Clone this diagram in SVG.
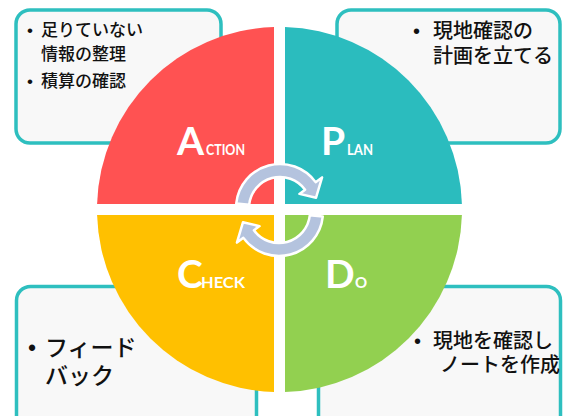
<svg xmlns="http://www.w3.org/2000/svg" width="564" height="416" viewBox="0 0 564 416">
<style>
.box{fill:#F8F8F8;stroke:#2EBFBF;stroke-width:3.5}
.jp{font-family:"Noto Sans CJK JP","Noto Sans",sans-serif;fill:#111;font-weight:500}
.bul{font-family:"Liberation Sans",sans-serif;fill:#111}
.big{font-family:Lato,"Liberation Sans",sans-serif;font-weight:bold;fill:#fff;font-size:39px}
.sm{font-family:Lato,"Liberation Sans",sans-serif;font-weight:bold;fill:#fff;font-size:15px}
.arr{fill:#B4C3DE;stroke:#fff;stroke-width:2.5;stroke-linejoin:round}
</style>
<rect width="564" height="416" fill="#fff"/>
<g id="note-action">
<rect class="box" x="16" y="10" width="205" height="133" rx="14"/>
<text class="bul" font-size="17" x="27" y="36">•</text>
<text class="jp" font-size="17"><tspan x="41" y="36">足りていない</tspan><tspan x="41" y="60">情報の整理</tspan></text>
<text class="bul" font-size="17" x="27" y="87">•</text>
<text class="jp" font-size="17" x="41" y="87">積算の確認</text>
</g>
<g id="note-plan">
<rect class="box" x="337" y="10" width="223" height="133" rx="14"/>
<text class="bul" font-size="20" x="413" y="38">•</text>
<text class="jp" font-size="20"><tspan x="433" y="38">現地確認の</tspan><tspan x="433" y="63">計画を立てる</tspan></text>
</g>
<g id="note-check">
<rect class="box" x="16.5" y="286.5" width="240" height="150" rx="14"/>
<text class="bul" font-size="23" x="28" y="356">•</text>
<text class="jp" font-size="23"><tspan x="45" y="356">フィード</tspan><tspan x="45" y="384">バック</tspan></text>
</g>
<g id="note-do">
<rect class="box" x="318.5" y="286.5" width="242" height="150" rx="14"/>
<text class="bul" font-size="20" x="414" y="348">•</text>
<text class="jp" font-size="20"><tspan x="433" y="348">現地を確認し</tspan><tspan x="440" y="372">ノートを作成</tspan></text>
</g>
<g id="action">
<path d="M274,204 L97.08,204 A182.5,182.5 0 0 1 274,27.08 Z" fill="#FF5252"/>
<text class="big" x="177" y="155">A</text>
<text class="sm" x="206" y="155" textLength="39" lengthAdjust="spacingAndGlyphs">CTION</text>
</g>
<g id="plan">
<path d="M285,204 L285,27.08 A182.5,182.5 0 0 1 461.92,204 Z" fill="#2BBCBE"/>
<text class="big" x="321" y="155">P</text>
<text class="sm" x="347" y="155" textLength="26" lengthAdjust="spacingAndGlyphs">LAN</text>
</g>
<g id="do">
<path d="M285,215 L461.92,215 A182.5,182.5 0 0 1 285,391.92 Z" fill="#92D050"/>
<text class="big" x="325" y="288">D</text>
<text class="sm" x="355" y="288">O</text>
</g>
<g id="check">
<path d="M274,215 L274,391.92 A182.5,182.5 0 0 1 97.08,215 Z" fill="#FFC000"/>
<text class="big" x="177" y="288">C</text>
<text class="sm" x="201" y="288" textLength="44" lengthAdjust="spacingAndGlyphs">HECK</text>
</g>
<g id="connectors">
<path id="arrow-top" class="arr" d="M236.24,203.40 A44,44 0 0 1 315.60,182.14 L322.07,177.43 L316.05,197.66 L299.42,193.89 L305.08,189.78 A31,31 0 0 0 249.17,204.76 Z"/>
<path id="arrow-bottom" class="arr" transform="rotate(180 279.5 210)" d="M236.24,203.40 A44,44 0 0 1 315.60,182.14 L322.07,177.43 L316.05,197.66 L299.42,193.89 L305.08,189.78 A31,31 0 0 0 249.17,204.76 Z"/>
</g>
</svg>
